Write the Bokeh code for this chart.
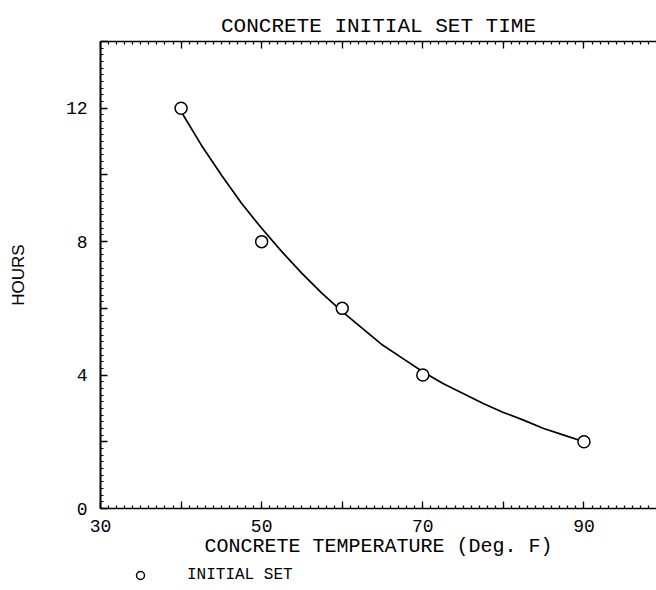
from bokeh.plotting import figure
from bokeh.models import (Range1d, LinearAxis, FixedTicker, Legend, LegendItem)
from bokeh.layouts import column
from bokeh.embed import file_html
from bokeh.resources import INLINE

# ---- data ----
temp_f = [40, 50, 60, 70, 90]
set_hours = [12, 8, 6, 4, 2]

curve_x = [40, 42.5, 45, 47.5, 50, 52.5, 55, 57.5, 60, 62.5, 65, 67.5, 70,
           72.5, 75, 77.5, 80, 82.5, 85, 87.5, 90]
curve_y = [11.9, 10.9, 10.0, 9.15, 8.4, 7.7, 7.05, 6.45, 5.9, 5.4, 4.9, 4.5, 4.1,
           3.75, 3.45, 3.15, 2.88, 2.65, 2.4, 2.2, 2.0]

x_major = [30, 40, 50, 60, 70, 80, 90]
x_minor = list(range(30, 99))
x_labels = {30: "30", 40: "", 50: "50", 60: "", 70: "70", 80: "", 90: "90"}
y_major = [0, 2, 4, 6, 8, 10, 12, 14]
y_minor = [round(i * 0.2, 1) for i in range(0, 71)]
y_labels = {0: "0", 2: "", 4: "4", 6: "", 8: "8", 10: "", 12: "12", 14: ""}

title_text = "CONCRETE INITIAL SET TIME"
x_title = "CONCRETE TEMPERATURE (Deg. F)"
y_title = "HOURS"
legend_text = "INITIAL SET"

PF = "Liberation Mono"

p = figure(width=656, height=564, output_backend="svg", toolbar_location=None,
           x_range=Range1d(30, 99), y_range=Range1d(0, 14),
           x_axis_type=None, y_axis_type=None,
           min_border_left=100, min_border_right=0, min_border_top=41,
           min_border_bottom=56)
p.outline_line_color = None
p.xgrid.visible = False
p.ygrid.visible = False
p.background_fill_color = "white"
p.border_fill_color = "white"

p.title.text = title_text
p.title.text_font = PF
p.title.text_font_size = "21px"
p.title.text_font_style = "normal"
p.title.text_color = "black"
p.title.align = "center"
p.title.offset = 5
p.title.standoff = 7


def style_axis(ax, major, minor, labels, show_labels=True, lw=1.5):
    ax.ticker = FixedTicker(ticks=major, minor_ticks=minor)
    ax.major_label_overrides = labels
    ax.major_tick_in = 7
    ax.major_tick_out = 0
    ax.minor_tick_in = 3
    ax.minor_tick_out = 0
    ax.axis_line_color = "black"
    ax.axis_line_width = lw
    ax.major_tick_line_width = 1.3
    ax.minor_tick_line_width = 1.2
    ax.major_tick_line_color = "black"
    ax.minor_tick_line_color = "black"
    ax.major_label_text_font = PF
    ax.major_label_text_font_size = "18px" if show_labels else "0px"
    ax.major_label_text_color = "black"


xb = LinearAxis()
style_axis(xb, x_major, x_minor, x_labels)
xb.major_label_standoff = 11
xb.axis_label = x_title
xb.axis_label_text_font = PF
xb.axis_label_text_font_size = "20px"
xb.axis_label_text_font_style = "normal"
xb.axis_label_text_color = "black"
xb.axis_label_standoff = 0
p.add_layout(xb, "below")

xt = LinearAxis()
style_axis(xt, x_major, x_minor, {k: "" for k in x_major}, show_labels=False)
xt.major_label_standoff = 0
p.add_layout(xt, "above")

yl = LinearAxis()
style_axis(yl, y_major, y_minor, y_labels, lw=2)
yl.major_label_standoff = 13
yl.axis_label = y_title
yl.axis_label_text_font = "Liberation Sans"
yl.axis_label_text_font_size = "17px"
yl.axis_label_text_font_style = "normal"
yl.axis_label_text_color = "black"
yl.axis_label_standoff = 35
p.add_layout(yl, "left")

# curve and markers
p.line(curve_x, curve_y, line_color="black", line_width=1.7)
p.scatter(temp_f, set_hours, marker="circle", size=12, line_color="black",
          line_width=1.5, fill_color="white")

# legend strip below the chart (same series, drawn only as legend swatch)
lf = figure(width=656, height=26, output_backend="svg", toolbar_location=None,
            x_range=p.x_range, y_range=Range1d(20, 21),
            x_axis_type=None, y_axis_type=None,
            min_border_left=0, min_border_right=0, min_border_top=0,
            min_border_bottom=0)
lf.outline_line_color = None
lf.xgrid.visible = False
lf.ygrid.visible = False
lf.background_fill_color = "white"
lf.border_fill_color = "white"
pts = lf.scatter(temp_f, set_hours, marker="circle", size=12, line_color="black",
                 line_width=1.5, fill_color="white")

legend = Legend(items=[LegendItem(label=legend_text, renderers=[pts])],
                location=(30, 5),
                glyph_width=20, glyph_height=20, label_standoff=37,
                padding=0, margin=0, spacing=0,
                border_line_color=None, background_fill_alpha=0,
                label_text_font=PF, label_text_font_size="16px",
                label_text_color="black", label_height=20)
lf.add_layout(legend)

layout = column(p, lf, spacing=0)
open("out.html", "w").write(file_html(layout, INLINE))
